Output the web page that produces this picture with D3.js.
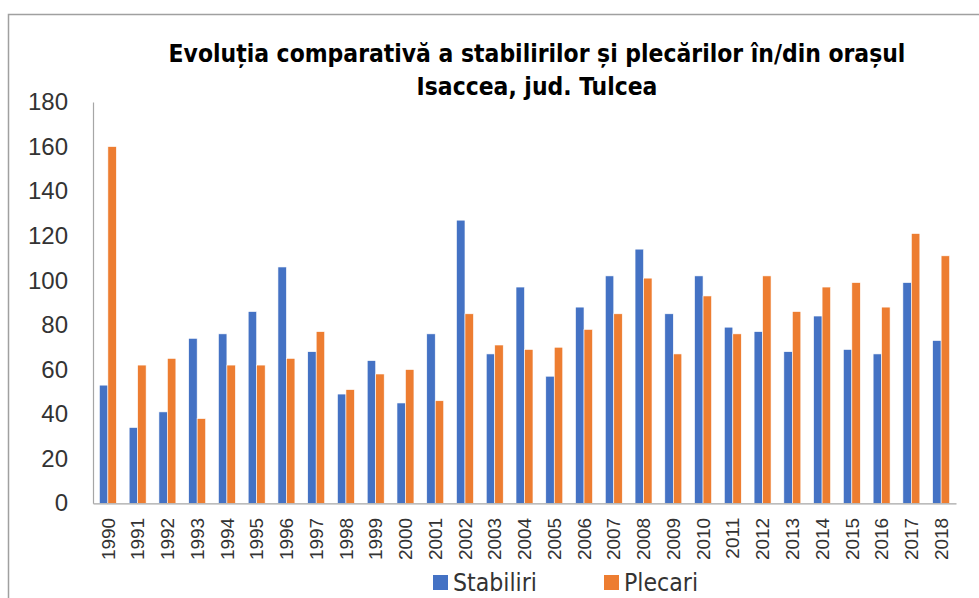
<!DOCTYPE html>
<html>
<head>
<meta charset="utf-8">
<script src="https://cdn.jsdelivr.net/npm/d3@7"></script>
<style>
  body { margin: 0; background: #fff; }
  svg { display: block; }
</style>
</head>
<body>
<div id="chart"></div>
<script>
let years = ["1990","1991","1992","1993","1994","1995","1996","1997","1998","1999",
  "2000","2001","2002","2003","2004","2005","2006","2007","2008","2009",
  "2010","2011","2012","2013","2014","2015","2016","2017","2018"];

let stabiliri = [53,34,41,74,76,86,106,68,49,64,45,76,127,67,97,57,88,102,114,85,102,79,77,68,84,69,67,99,73];
let plecari = [160,62,65,38,62,62,65,77,51,58,60,46,85,71,69,70,78,85,101,67,93,76,102,86,97,99,88,121,111];

let seriesNames = ["Stabiliri", "Plecari"];
let seriesColors = ["#4472C4", "#ED7D31"];
let yTicks = [0,20,40,60,80,100,120,140,160,180];

let titleLines = ["Evoluția comparativă a stabilirilor și plecărilor în/din orașul", "Isaccea, jud. Tulcea"];

let width = 979, height = 598;
let plot = {left: 93, right: 956, top: 102, bottom: 503.3};

let svg = d3.select("#chart").append("svg")
  .attr("width", width)
  .attr("height", height);

// chart border
svg.append("rect")
  .attr("x", 8.5).attr("y", 14.5)
  .attr("width", width).attr("height", height)
  .attr("fill", "none")
  .attr("stroke", "#a0a0a0")
  .attr("stroke-width", 1.5);

let x0 = d3.scaleBand()
  .domain(years)
  .range([plot.left, plot.right])
  .paddingInner(0.43)
  .paddingOuter(0.215);

let x1 = d3.scaleBand()
  .domain(seriesNames)
  .range([0, x0.bandwidth()]);

let y = d3.scaleLinear()
  .domain([0, 180])
  .range([plot.bottom, plot.top]);

let rows = years.map((yr, i) => ({year: yr, values: [stabiliri[i], plecari[i]]}));

let groups = svg.append("g").selectAll("g")
  .data(rows)
  .enter().append("g")
  .attr("transform", d => "translate(" + x0(d.year) + ",0)");

groups.selectAll("rect")
  .data(d => d.values.map((v, k) => ({key: seriesNames[k], value: v, k: k})))
  .enter().append("rect")
  .attr("x", d => x1(d.key))
  .attr("y", d => y(d.value))
  .attr("width", x1.bandwidth())
  .attr("height", d => y(0) - y(d.value))
  .attr("fill", d => seriesColors[d.k])
  .attr("stroke", "#fff")
  .attr("stroke-width", 0.6);

// y axis
let yAxis = svg.append("g")
  .attr("transform", "translate(" + plot.left + ",0)")
  .call(d3.axisLeft(y).tickValues(yTicks).tickSize(0).tickPadding(25));
yAxis.select(".domain").attr("stroke", "#a6a6a6").attr("stroke-width", 1.2);
yAxis.selectAll("text")
  .attr("fill", "#333")
  .style("font-family", "'Liberation Sans', Arial, sans-serif")
  .style("font-size", "24px");

// x axis
let xAxis = svg.append("g")
  .attr("transform", "translate(0," + plot.bottom + ")")
  .call(d3.axisBottom(x0).tickSize(0));
xAxis.select(".domain").attr("stroke", "#a6a6a6").attr("stroke-width", 1.2);
xAxis.selectAll("text")
  .attr("fill", "#333")
  .style("font-family", "'Liberation Sans', Arial, sans-serif")
  .style("font-size", "19px")
  .attr("transform", "rotate(-90)")
  .attr("text-anchor", "end")
  .attr("x", -14.5)
  .attr("y", 0)
  .attr("dy", "0.35em");

// fits a text element to a target width by changing its font size
function fitText(sel, target) {
  let size = parseFloat(sel.style("font-size"));
  let w = sel.node().getComputedTextLength();
  sel.style("font-size", (size * target / w) + "px");
}

// title
let titleFont = "'DejaVu Sans Condensed', 'Liberation Sans', Arial, sans-serif";
let t1 = svg.append("text")
  .attr("x", 537).attr("y", 62)
  .attr("text-anchor", "middle")
  .style("font-family", titleFont)
  .style("font-weight", "bold")
  .style("font-size", "24px")
  .attr("fill", "#000")
  .text(titleLines[0]);
fitText(t1, 737);
svg.append("text")
  .attr("x", 537).attr("y", 95)
  .attr("text-anchor", "middle")
  .style("font-family", titleFont)
  .style("font-weight", "bold")
  .style("font-size", t1.style("font-size"))
  .attr("fill", "#000")
  .text(titleLines[1]);

// legend
let legendX = [433, 604];
let legend = svg.append("g").selectAll("g")
  .data(seriesNames)
  .enter().append("g")
  .attr("transform", (d, i) => "translate(" + legendX[i] + ",575)");

legend.append("rect")
  .attr("width", 15).attr("height", 15)
  .attr("fill", (d, i) => seriesColors[i]);

let legendText = legend.append("text")
  .attr("x", 20).attr("y", 16)
  .style("font-family", "'DejaVu Sans Condensed', 'Liberation Sans', Arial, sans-serif")
  .style("font-size", "24px")
  .attr("fill", "#333")
  .text(d => d);
fitText(d3.select(legendText.nodes()[0]), 84);
d3.select(legendText.nodes()[1]).style("font-size", d3.select(legendText.nodes()[0]).style("font-size"));
</script>
</body>
</html>
